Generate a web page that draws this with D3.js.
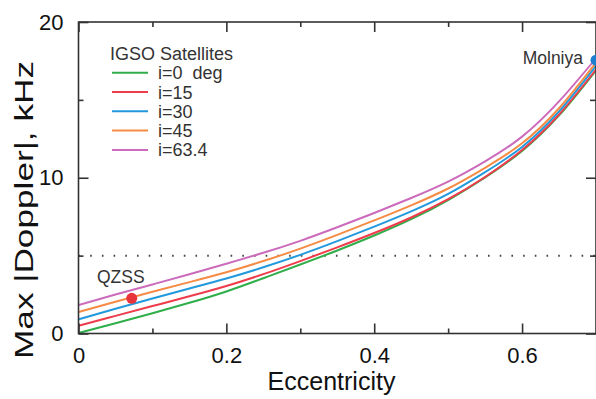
<!DOCTYPE html>
<html><head><meta charset="utf-8">
<script src="https://cdn.jsdelivr.net/npm/d3@7"></script>
<style>body{margin:0;background:#fff}svg{display:block}text{font-family:Arial,"Liberation Sans",Helvetica,sans-serif}</style>
</head><body>
<svg id="c" width="596" height="399"></svg>
<script>
const ecc = [0,0.05,0.1,0.15,0.2,0.25,0.3,0.35,0.4,0.45,0.5,0.55,0.6,0.65,0.7];
const seriesNames = ["i=0  deg","i=15","i=30","i=45","i=63.4"];
const seriesColors = ["#2fae4a","#ee3c4c","#2299dd","#f58b45","#cc6bbb"];
const s0 = [0.03,0.66,1.3,1.97,2.7,3.55,4.43,5.33,6.29,7.34,8.57,10.02,11.72,14.0,16.9];
const s15 = [0.5,1.13,1.76,2.39,3.05,3.81,4.65,5.53,6.45,7.45,8.62,10.05,11.78,14.06,16.95];
const s30 = [0.91,1.59,2.25,2.89,3.53,4.25,5.05,5.93,6.86,7.84,8.96,10.36,11.98,14.26,17.19];
const s45 = [1.38,2.04,2.68,3.3,3.93,4.65,5.45,6.33,7.26,8.23,9.31,10.64,12.21,14.46,17.39];
const s63 = [1.83,2.5,3.15,3.8,4.48,5.18,5.95,6.82,7.74,8.7,9.75,11.05,12.64,14.9,17.67];
const seriesValues = [s0,s15,s30,s45,s63];
const xTicks = [0,0.2,0.4,0.6];
const xMinor = [0.1,0.3,0.5];
const yTicks = [0,10,20];
const yMinor = [5,15];
const refLine = 5;
const qzss = {name:"QZSS", e:0.072, v:2.26, color:"#e8323c"};
const molniya = {name:"Molniya", e:0.7, v:17.55, color:"#1e7fd0"};

(function(){
const svg = d3.select("#c");
const L=78.5, R=596, T=22, B=333.5;
const x = d3.scaleLinear().domain([0,0.7]).range([L,R]);
const y = d3.scaleLinear().domain([0,20]).range([B,T]);
const axisCol = "#333";

svg.append("defs").append("clipPath").attr("id","clip")
  .append("rect").attr("x",L).attr("y",T).attr("width",R-L+2).attr("height",B-T);

svg.append("line").attr("x1",L).attr("x2",R).attr("y1",y(refLine)).attr("y2",y(refLine))
  .attr("stroke","#444").attr("stroke-width",2).attr("stroke-dasharray","1.6,10.1");

const line = d3.line().x((d,i)=>x(ecc[i])).y(d=>y(d)).curve(d3.curveNatural);
const g = svg.append("g").attr("clip-path","url(#clip)");
seriesValues.forEach((vals,k)=>{
  g.append("path").attr("d",line(vals)).attr("fill","none")
   .attr("stroke",seriesColors[k]).attr("stroke-width",2);
});

function axisG(gen, tf){ return svg.append("g").attr("transform",tf).call(gen); }
const fmt = d=> d===0? "0" : (Number.isInteger(d)? d3.format("d")(d): d3.format(".1f")(d));
axisG(d3.axisBottom(x).tickValues(xTicks).tickSize(-10).tickPadding(14).tickFormat(fmt), `translate(0,${B})`);
axisG(d3.axisBottom(x).tickValues(xMinor).tickSize(-5).tickFormat(""), `translate(0,${B})`);
axisG(d3.axisTop(x).tickValues(xTicks).tickSize(-10).tickFormat(""), `translate(0,${T})`);
axisG(d3.axisTop(x).tickValues(xMinor).tickSize(-5).tickFormat(""), `translate(0,${T})`);
axisG(d3.axisLeft(y).tickValues(yTicks).tickSize(-10).tickPadding(15).tickFormat(fmt), `translate(${L},0)`);
axisG(d3.axisLeft(y).tickValues(yMinor).tickSize(-5).tickFormat(""), `translate(${L},0)`);
axisG(d3.axisRight(y).tickValues(yTicks).tickSize(-10).tickFormat(""), `translate(${R},0)`);
axisG(d3.axisRight(y).tickValues(yMinor).tickSize(-6).tickFormat(""), `translate(${R},0)`);
svg.selectAll(".domain").remove();
svg.selectAll(".tick line").attr("stroke",axisCol).attr("stroke-width",1.6);
svg.selectAll(".tick text").attr("fill","#111").attr("font-size",22).attr("font-family","Arial, Liberation Sans, sans-serif");
svg.append("rect").attr("x",L).attr("y",T).attr("width",R-L).attr("height",B-T)
  .attr("fill","none").attr("stroke",axisCol).attr("stroke-width",1.6);

[qzss, molniya].forEach(m=>{
  svg.append("circle").attr("cx",x(m.e)).attr("cy",y(m.v)).attr("r",5.5).attr("fill",m.color);
});
svg.append("text").attr("x",97).attr("y",283).attr("font-size",17.5).attr("fill","#333").text(qzss.name);
svg.append("text").attr("x",583).attr("y",64).attr("text-anchor","end").attr("font-size",17.5).attr("fill","#333").text(molniya.name);

const lg = svg.append("g");
lg.append("text").attr("x",110).attr("y",60).attr("font-size",18).attr("fill","#333").text("IGSO Satellites");
seriesNames.forEach((n,k)=>{
  const yy = 72.7 + k*19.3;
  lg.append("line").attr("x1",112).attr("x2",148).attr("y1",yy).attr("y2",yy)
    .attr("stroke",seriesColors[k]).attr("stroke-width",2);
  lg.append("text").attr("x",158).attr("y",yy+6.5).attr("font-size",18).attr("fill","#333")
    .style("white-space","pre").text(n);
});

svg.append("text").attr("x",331.5).attr("y",390).attr("text-anchor","middle")
  .attr("font-size",25).attr("fill","#111").text("Eccentricity");
svg.append("text").attr("transform","translate(33,210) rotate(-90)").attr("text-anchor","middle")
  .attr("font-size",26).attr("fill","#111")
  .attr("textLength",298).attr("lengthAdjust","spacingAndGlyphs").text("Max |Doppler|, kHz");
})();
</script>
</body></html>
